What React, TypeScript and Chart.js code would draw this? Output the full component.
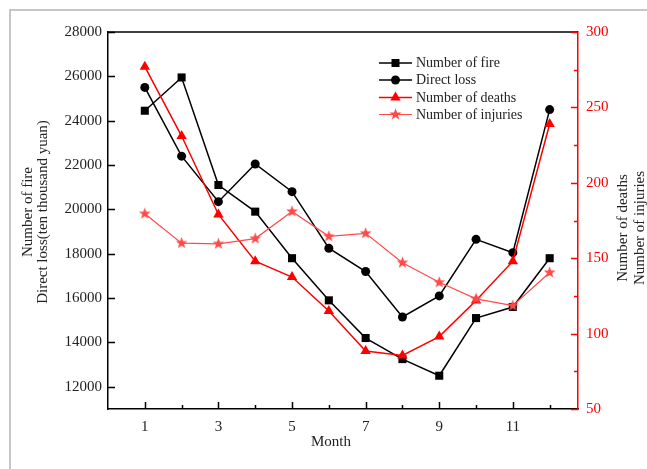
import React, { useEffect, useRef } from 'react';
import { Chart, registerables } from 'chart.js';
Chart.register(...registerables);

const months = [1, 2, 3, 4, 5, 6, 7, 8, 9, 10, 11, 12];
const numberOfFire = [24450, 25950, 21100, 19900, 17800, 15900, 14200, 13250, 12500, 15100, 15600, 17800];
const directLoss = [25500, 22400, 20350, 22050, 20800, 18250, 17200, 15150, 16100, 18650, 18050, 24500];
const numberOfDeaths = [277, 231, 179, 148, 137.5, 115, 88.5, 85.5, 98, 122, 148, 239];
const numberOfInjuries = [179.5, 160, 159.5, 163, 181, 164.5, 166.5, 147, 134, 123, 118.5, 140.5];

const xTickLabels = [1, 3, 5, 7, 9, 11];
const xMinorTicks = [2, 4, 6, 8, 10, 12];
const leftTicks = [12000, 14000, 16000, 18000, 20000, 22000, 24000, 26000, 28000];
const rightTicks = [50, 100, 150, 200, 250, 300];
const rightMinorTicks = [75, 125, 175, 225, 275];

const seriesNames = ['Number of fire', 'Direct loss', 'Number of deaths', 'Number of injuries'];

const FONT = '"Liberation Serif", "Times New Roman", serif';
const TEXT = '#222';
const RED = '#ff0000';
const LIGHT_RED = '#ff4a4a';

function makeStar(color: string, size: number) {
  const c = document.createElement('canvas');
  c.width = size;
  c.height = size;
  const ctx = c.getContext('2d')!;
  const cx = size / 2, cy = size / 2;
  const R = size / 2 - 0.3, r = R * 0.42;
  ctx.beginPath();
  for (let i = 0; i < 10; i++) {
    const rad = -Math.PI / 2 + (i * Math.PI) / 5;
    const rr = i % 2 === 0 ? R : r;
    const px = cx + Math.cos(rad) * rr, py = cy + Math.sin(rad) * rr;
    if (i === 0) ctx.moveTo(px, py); else ctx.lineTo(px, py);
  }
  ctx.closePath();
  ctx.fillStyle = color;
  ctx.fill();
  return c;
}

function drawMarker(ctx: CanvasRenderingContext2D, kind: string, x: number, y: number, color: string, star?: HTMLCanvasElement) {
  ctx.save();
  ctx.fillStyle = color;
  ctx.beginPath();
  if (kind === 'rect') {
    ctx.rect(x - 4, y - 4, 8, 8);
    ctx.fill();
  } else if (kind === 'circle') {
    ctx.arc(x, y, 4.5, 0, Math.PI * 2);
    ctx.fill();
  } else if (kind === 'triangle') {
    const r = 6;
    ctx.moveTo(x, y - r);
    ctx.lineTo(x + Math.sin((2 * Math.PI) / 3) * r, y - Math.cos((2 * Math.PI) / 3) * r);
    ctx.lineTo(x + Math.sin((4 * Math.PI) / 3) * r, y - Math.cos((4 * Math.PI) / 3) * r);
    ctx.closePath();
    ctx.fill();
  } else if (kind === 'star' && star) {
    ctx.drawImage(star, x - star.width / 2, y - star.height / 2);
  }
  ctx.restore();
}

export default function App() {
  const ref = useRef<HTMLCanvasElement | null>(null);

  useEffect(() => {
    const canvas = ref.current!;
    const star = makeStar(LIGHT_RED, 13);
    const toPts = (arr: number[]) => months.map((m, i) => ({ x: m, y: arr[i] }));

    const decorations = {
      id: 'decorations',
      beforeDraw(chart: any) {
        const ctx = chart.ctx as CanvasRenderingContext2D;
        ctx.save();
        ctx.fillStyle = '#fff';
        ctx.fillRect(0, 0, chart.width, chart.height);
        ctx.strokeStyle = '#b4b4b4';
        ctx.lineWidth = 1.5;
        ctx.beginPath();
        ctx.moveTo(10, chart.height);
        ctx.lineTo(10, 10);
        ctx.lineTo(chart.width, 10);
        ctx.stroke();
        ctx.restore();
      },
      afterDraw(chart: any) {
        const ctx = chart.ctx as CanvasRenderingContext2D;
        const { left, right, top, bottom } = chart.chartArea;
        const xs = chart.scales.x, yl = chart.scales.y, yr = chart.scales.y1;
        ctx.save();
        // top frame
        ctx.strokeStyle = '#000';
        ctx.lineWidth = 1.5;
        ctx.beginPath();
        ctx.moveTo(left, top);
        ctx.lineTo(right, top);
        ctx.stroke();
        // x ticks inward
        ctx.lineWidth = 1.5;
        ctx.beginPath();
        xTickLabels.forEach(v => {
          const px = Math.round(xs.getPixelForValue(v)) + 0.5;
          ctx.moveTo(px, bottom);
          ctx.lineTo(px, bottom - 7);
        });
        xMinorTicks.forEach(v => {
          const px = Math.round(xs.getPixelForValue(v)) + 0.5;
          ctx.moveTo(px, bottom);
          ctx.lineTo(px, bottom - 4);
        });
        // left ticks inward
        leftTicks.forEach(v => {
          const py = Math.round(yl.getPixelForValue(v)) + 0.5;
          ctx.moveTo(left, py);
          ctx.lineTo(left + 7, py);
        });
        ctx.stroke();
        // right ticks inward
        ctx.strokeStyle = RED;
        ctx.beginPath();
        rightTicks.forEach(v => {
          const py = Math.round(yr.getPixelForValue(v)) + 0.5;
          ctx.moveTo(right, py);
          ctx.lineTo(right - 7, py);
        });
        rightMinorTicks.forEach(v => {
          const py = Math.round(yr.getPixelForValue(v)) + 0.5;
          ctx.moveTo(right, py);
          ctx.lineTo(right - 4, py);
        });
        ctx.stroke();

        // axis titles
        ctx.fillStyle = TEXT;
        ctx.font = `15px ${FONT}`;
        ctx.textAlign = 'center';
        ctx.textBaseline = 'middle';
        ctx.fillText('Month', 331, 442);

        ctx.save();
        ctx.translate(28, 212);
        ctx.rotate(-Math.PI / 2);
        ctx.fillText('Number of fire', 0, 0);
        ctx.restore();
        ctx.save();
        ctx.translate(43, 212);
        ctx.rotate(-Math.PI / 2);
        ctx.fillText('Direct loss(ten thousand yuan)', 0, 0);
        ctx.restore();

        ctx.save();
        ctx.translate(623, 228);
        ctx.rotate(-Math.PI / 2);
        ctx.fillText('Number of deaths', 0, 0);
        ctx.restore();
        ctx.save();
        ctx.translate(640, 228);
        ctx.rotate(-Math.PI / 2);
        ctx.fillText('Number of injuries', 0, 0);
        ctx.restore();

        // legend
        const rows = [63, 80, 97.5, 114.5];
        const colors = ['#000', '#000', RED, LIGHT_RED];
        const kinds = ['rect', 'circle', 'triangle', 'star'];
        const widths = [1.5, 1.5, 1.5, 1.2];
        ctx.font = `14px ${FONT}`;
        ctx.textAlign = 'left';
        rows.forEach((y, i) => {
          ctx.strokeStyle = colors[i];
          ctx.lineWidth = widths[i];
          ctx.beginPath();
          ctx.moveTo(379, y);
          ctx.lineTo(412, y);
          ctx.stroke();
          drawMarker(ctx, kinds[i], 395.5, y, colors[i], star);
          ctx.fillStyle = TEXT;
          ctx.fillText(seriesNames[i], 416, y + 0.5);
        });
        ctx.restore();
      },
    };

    const plain = (v: any) => String(v);

    const chart = new Chart(canvas, {
      type: 'line',
      data: {
        datasets: [
          {
            label: seriesNames[3],
            data: toPts(numberOfInjuries),
            yAxisID: 'y1',
            borderColor: LIGHT_RED,
            backgroundColor: LIGHT_RED,
            borderWidth: 1.2,
            pointStyle: star as any,
            pointRadius: 6,
            tension: 0,
          },
          {
            label: seriesNames[2],
            data: toPts(numberOfDeaths),
            yAxisID: 'y1',
            borderColor: RED,
            backgroundColor: RED,
            borderWidth: 1.5,
            pointStyle: 'triangle',
            pointRadius: 6,
            pointBorderWidth: 0,
            tension: 0,
          },
          {
            label: seriesNames[1],
            data: toPts(directLoss),
            yAxisID: 'y',
            borderColor: '#000',
            backgroundColor: '#000',
            borderWidth: 1.5,
            pointStyle: 'circle',
            pointRadius: 4.5,
            pointBorderWidth: 0,
            tension: 0,
          },
          {
            label: seriesNames[0],
            data: toPts(numberOfFire),
            yAxisID: 'y',
            borderColor: '#000',
            backgroundColor: '#000',
            borderWidth: 1.5,
            pointStyle: 'rect',
            pointRadius: 5.7,
            pointBorderWidth: 0,
            tension: 0,
          },
        ],
      },
      options: {
        responsive: false,
        animation: false,
        layout: { padding: { top: 32, left: 0, right: 0, bottom: 0 } },
        plugins: { legend: { display: false }, tooltip: { enabled: false } },
        scales: {
          x: {
            type: 'linear',
            min: 0,
            max: 12.77,
            afterBuildTicks: (s: any) => {
              s.ticks = xTickLabels.map(v => ({ value: v }));
            },
            afterFit: (s: any) => {
              s.height = 60;
            },
            grid: { display: false, drawTicks: false },
            border: { display: true, color: '#000', width: 1.5 },
            ticks: { font: { family: FONT, size: 15 }, color: TEXT, padding: 9, callback: plain },
          },
          y: {
            type: 'linear',
            position: 'left',
            min: 11000,
            max: 28000,
            afterBuildTicks: (s: any) => {
              s.ticks = leftTicks.map(v => ({ value: v }));
            },
            afterFit: (s: any) => {
              s.width = 108;
            },
            grid: { display: false, drawTicks: false },
            border: { display: true, color: '#000', width: 1.5 },
            ticks: { font: { family: FONT, size: 15 }, color: TEXT, padding: 6, callback: plain },
          },
          y1: {
            type: 'linear',
            position: 'right',
            min: 50,
            max: 300,
            afterBuildTicks: (s: any) => {
              s.ticks = rightTicks.map(v => ({ value: v }));
            },
            afterFit: (s: any) => {
              s.width = 69;
            },
            grid: { display: false, drawTicks: false },
            border: { display: true, color: RED, width: 1.5 },
            ticks: { font: { family: FONT, size: 15 }, color: RED, padding: 8, callback: plain },
          },
        },
      },
      plugins: [decorations],
    } as any);
    return () => chart.destroy();
  }, []);

  return (
    <div style={{ position: 'fixed', left: 0, top: 0, width: 647, height: 469, background: '#fff' }}>
      <canvas ref={ref} width={647} height={469} style={{ display: 'block', width: 647, height: 469 }} />
    </div>
  );
}
